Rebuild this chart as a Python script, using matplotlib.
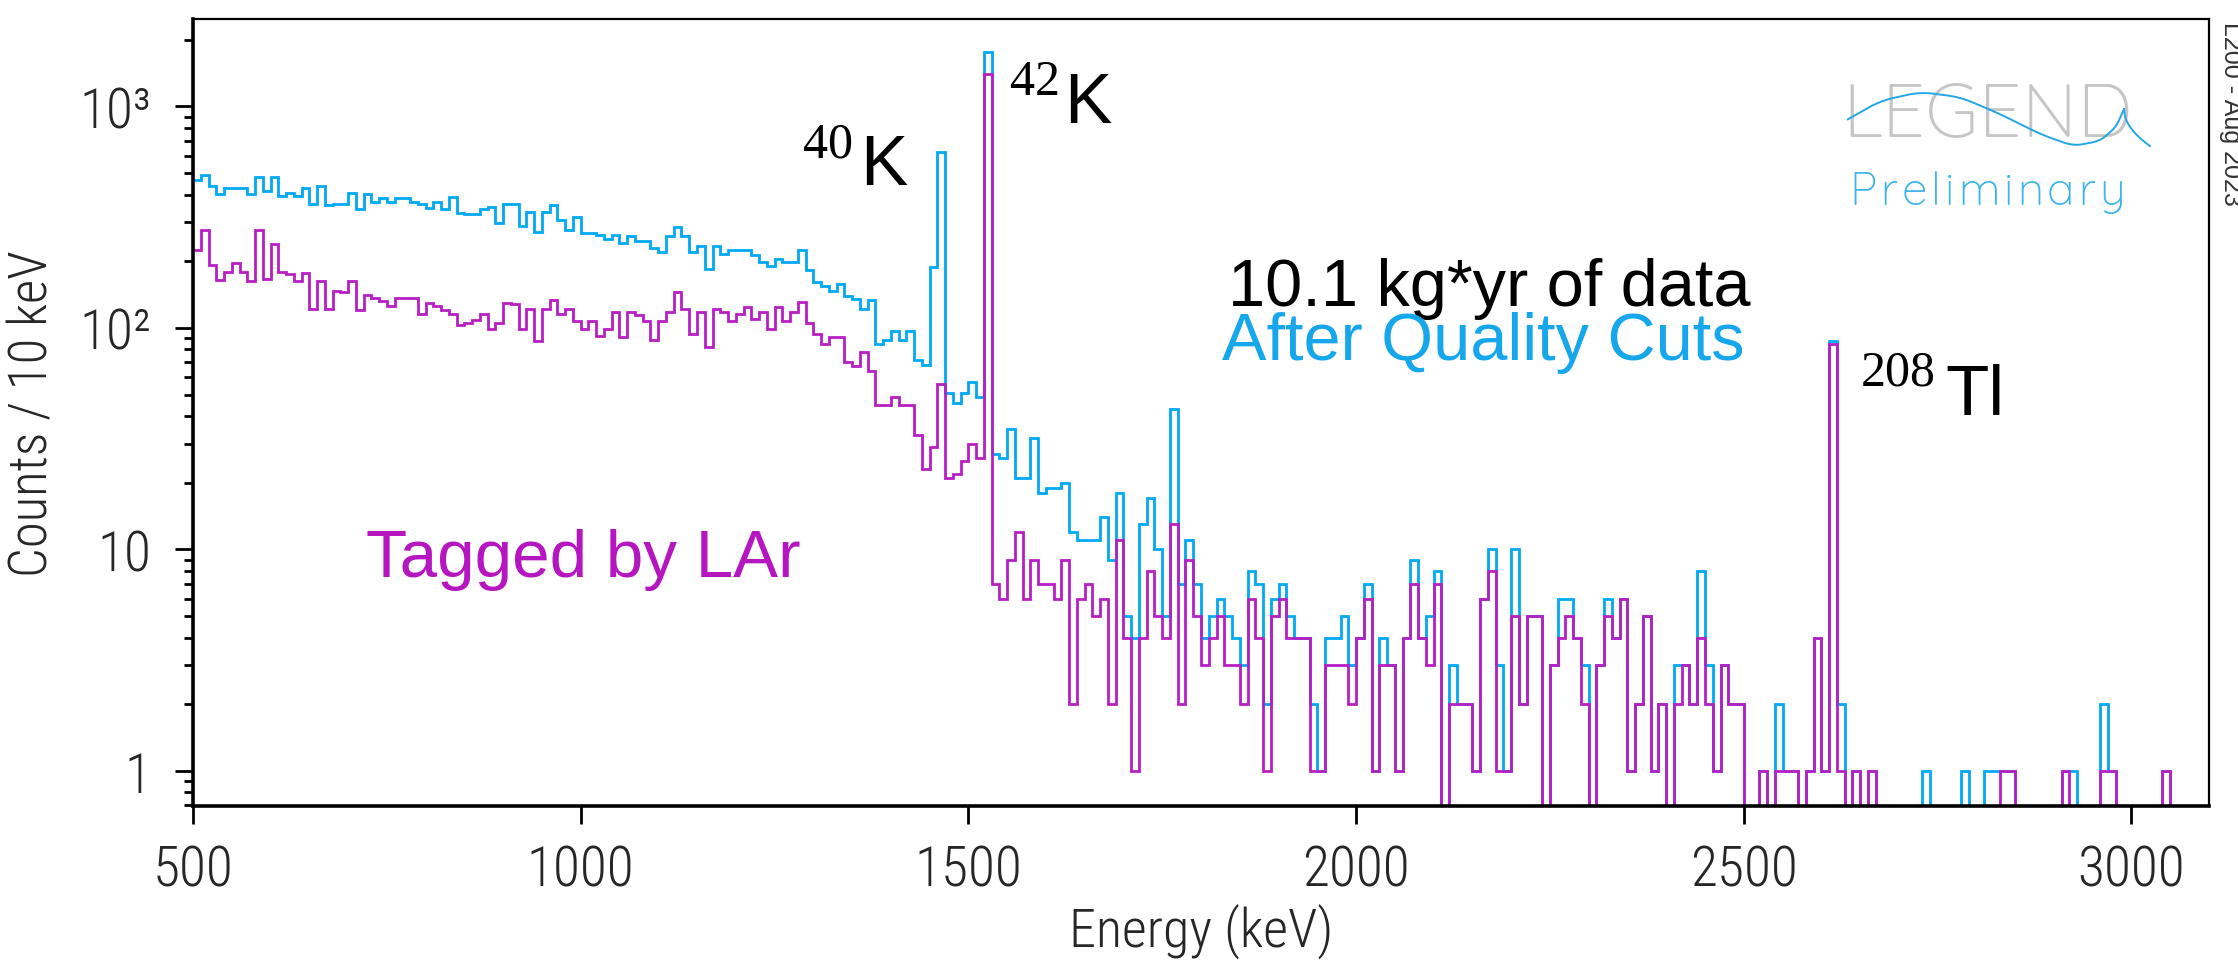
import numpy as np
import matplotlib
matplotlib.use("Agg")
import matplotlib.pyplot as plt
from matplotlib import font_manager
from matplotlib.ticker import FixedLocator, FixedFormatter, NullFormatter
from matplotlib.lines import Line2D

# ---------------------------------------------------------------- data
bin_width = 10  # keV
energy_min = 500
energy_max = 3100

# Counts per 10 keV bin, 500-3100 keV, after quality cuts
quality_cuts = [
    464, 491, 439, 403, 427, 427, 427, 403, 482, 415,
    478, 393, 407, 393, 430, 364, 439, 358, 364, 364,
    407, 344, 403, 371, 385, 371, 385, 385, 371, 364,
    347, 371, 344, 388, 330, 326, 326, 344, 350, 297,
    364, 364, 288, 332, 271, 332, 358, 308, 278, 317,
    268, 268, 262, 252, 264, 241, 261, 246, 246, 229,
    220, 259, 285, 259, 220, 235, 185, 235, 216, 224,
    224, 224, 214, 198, 191, 205, 198, 198, 224, 182,
    161, 155, 147, 158, 140, 135, 122, 133, 85, 88,
    97, 88, 97, 72, 68, 189, 625, 51, 46, 51,
    57, 49, 1760, 27, 26, 35, 21, 21, 32, 18,
    19, 19, 20, 12, 11, 11, 11, 14, 9, 18,
    5, 4, 13, 17, 10, 5, 43, 7, 11, 7,
    4, 5, 6, 5, 4, 3, 8, 7, 2, 6,
    7, 5, 4, 4, 2, 1, 4, 4, 5, 3,
    4, 7, 1, 4, 3, 1, 4, 9, 4, 5,
    8, 0, 3, 2, 2, 1, 6, 10, 3, 1,
    10, 2, 5, 5, 0, 3, 6, 6, 4, 3,
    0, 3, 6, 4, 6, 1, 2, 5, 1, 2,
    0, 3, 3, 2, 8, 3, 1, 3, 2, 2,
    0, 0, 1, 0, 2, 1, 1, 0, 1, 4,
    1, 87, 2, 0, 1, 0, 1, 0, 0, 0,
    0, 0, 0, 1, 0, 0, 0, 0, 1, 0,
    0, 1, 1, 1, 1, 0, 0, 0, 0, 0,
    0, 1, 1, 0, 0, 0, 2, 1, 0, 0,
    0, 0, 0, 0, 1, 0, 0, 0, 0, 0,
]

# Counts per 10 keV bin, 500-3100 keV, tagged by the LAr veto
lar_tagged = [
    225, 276, 192, 165, 178, 196, 178, 163, 276, 167,
    240, 178, 175, 163, 177, 122, 163, 122, 147, 146,
    163, 120, 141, 137, 132, 126, 136, 136, 136, 115,
    129, 126, 120, 116, 103, 105, 109, 116, 99, 105,
    129, 128, 99, 122, 87, 122, 134, 116, 122, 107,
    99, 108, 92, 99, 118, 91, 118, 114, 107, 88,
    108, 118, 145, 122, 94, 118, 82, 122, 118, 108,
    116, 124, 110, 118, 99, 124, 108, 118, 131, 105,
    94, 85, 91, 91, 70, 67, 78, 64, 45, 45,
    49, 45, 45, 33, 23, 29, 56, 21, 22, 25,
    30, 26, 1400, 7, 6, 9, 12, 6, 9, 7,
    7, 6, 9, 2, 6, 7, 5, 6, 2, 11,
    4, 1, 4, 8, 5, 4, 13, 2, 9, 5,
    3, 4, 5, 3, 3, 2, 6, 4, 1, 5,
    6, 4, 4, 4, 1, 1, 3, 3, 3, 2,
    4, 6, 1, 3, 3, 1, 4, 7, 4, 3,
    7, 0, 2, 2, 2, 1, 6, 8, 1, 1,
    5, 2, 5, 5, 0, 3, 4, 5, 4, 2,
    0, 3, 5, 4, 6, 1, 2, 5, 1, 2,
    0, 2, 3, 2, 4, 2, 1, 3, 2, 2,
    0, 0, 1, 0, 1, 1, 1, 0, 1, 4,
    1, 85, 1, 0, 1, 0, 1, 0, 0, 0,
    0, 0, 0, 0, 0, 0, 0, 0, 0, 0,
    0, 0, 0, 1, 1, 0, 0, 0, 0, 0,
    0, 1, 0, 0, 0, 0, 1, 1, 0, 0,
    0, 0, 0, 0, 1, 0, 0, 0, 0, 0,
]

x_ticks = [500, 1000, 1500, 2000, 2500, 3000]
y_ticks = [1, 10, 100, 1000]
y_tick_labels = ["1", "10", "10\u00b2", "10\u00b3"]

# ---------------------------------------------------------------- style
BLUE = "#00A9F4"
MAGENTA = "#B81EC4"
BLUE_TEXT = "#16A6EC"
MAGENTA_TEXT = "#B516C0"
AXIS_TEXT = "#262626"

W, H = 2238, 962


def pick(*families):
    have = {f.name for f in font_manager.fontManager.ttflist}
    for fam in families:
        if fam in have:
            return fam
    return "DejaVu Sans"


AXIS_FONT = pick("Roboto Condensed", "Barlow Semi Condensed", "Barlow Condensed",
                 "Open Sans Condensed", "Liberation Sans Narrow", "Roboto")
LOGO_FONT = pick("Quicksand", "Nunito", "Lato", "Roboto")
SERIF = pick("Liberation Serif", "DejaVu Serif")
SANS = pick("Liberation Sans", "Arial", "DejaVu Sans")


def fx(px):
    return px / W


def fy(py):
    return 1 - py / H


edges = np.arange(energy_min, energy_max + bin_width, bin_width)

fig = plt.figure(figsize=(W / 100, H / 100), dpi=100)
ax = fig.add_axes([fx(193), fy(807), fx(2209) - fx(193), fy(20) - fy(807)])

ax.set_yscale("log")
ax.stairs(quality_cuts, edges, baseline=None, color=BLUE, lw=2.0, zorder=2)
ax.stairs(lar_tagged, edges, baseline=None, color=MAGENTA, lw=2.0, zorder=3)

ax.set_xlim(energy_min, energy_max)
ax.set_ylim(0.695, 2480)

# spines
for side in ("left", "bottom"):
    ax.spines[side].set_linewidth(2.6)
for side in ("top", "right"):
    ax.spines[side].set_linewidth(1.6)
for sp in ax.spines.values():
    sp.set_zorder(5)

# ticks
ax.xaxis.set_major_locator(FixedLocator(x_ticks))
ax.xaxis.set_minor_locator(FixedLocator([]))
ax.yaxis.set_major_locator(FixedLocator(y_ticks))
ax.yaxis.set_major_formatter(FixedFormatter(y_tick_labels))
minor = [m * 10 ** d for d in range(-1, 4) for m in range(2, 10)]
ax.yaxis.set_minor_locator(FixedLocator(minor))
ax.yaxis.set_minor_formatter(NullFormatter())

ax.tick_params(axis="both", which="major", direction="out", length=13, width=2.0,
               colors="black", labelcolor=AXIS_TEXT, labelsize=40)
ax.tick_params(axis="x", which="major", pad=14)
ax.tick_params(axis="y", which="major", pad=17)
ax.tick_params(axis="y", which="minor", direction="out", length=6.5, width=2.0)
ax.tick_params(top=False, right=False, which="both")

for lab in ax.get_xticklabels() + ax.get_yticklabels():
    lab.set_fontfamily(AXIS_FONT)
    lab.set_fontweight(300)

ax.set_xlabel("Energy (keV)", fontsize=39, family=AXIS_FONT, weight=300,
              color=AXIS_TEXT, labelpad=5)
ax.set_ylabel("Counts / 10 keV", fontsize=38, family=AXIS_FONT, weight=300,
              color=AXIS_TEXT, labelpad=15)

# ---------------------------------------------------------------- annotations
def isotope(mass, symbol, x_num, y_num, x_sym, y_sym):
    fig.text(fx(x_num), fy(y_num), mass, family=SERIF, fontsize=36,
             ha="left", va="baseline", color="black")
    fig.text(fx(x_sym), fy(y_sym), symbol, family=SANS, fontsize=51,
             ha="left", va="baseline", color="black")


isotope("40", "K", 803, 158, 860, 185)
isotope("42", "K", 1010, 95, 1064, 123)
isotope("208", "Tl", 1861, 385, 1945, 415)

fig.text(fx(1228), fy(306), "10.1 kg*yr of data", family=SANS, fontsize=48,
         ha="left", va="baseline", color="black")
fig.text(fx(1222), fy(360), "After Quality Cuts", family=SANS, fontsize=48,
         ha="left", va="baseline", color=BLUE_TEXT)
fig.text(fx(366), fy(577), "Tagged by LAr", family=SANS, fontsize=48.5,
         ha="left", va="baseline", color=MAGENTA_TEXT)

# collaboration mark
fig.text(fx(1987), fy(137), "LEGEND", family=LOGO_FONT, fontsize=55, weight=600,
         ha="center", va="baseline", color="#C6C6C6", zorder=6)
wave_x = np.array([1845, 1880, 1920, 1960, 2000, 2040, 2073, 2100, 2116, 2124])
wave_y = np.array([122, 102, 93, 98, 115, 135, 147, 142, 128, 110])
t = np.linspace(0, 1, 200)
xs = np.interp(t, np.linspace(0, 1, len(wave_x)), wave_x)
ys = np.interp(t, np.linspace(0, 1, len(wave_y)), wave_y)
# smooth the wave
k = np.ones(15) / 15
xs_s = np.convolve(np.pad(xs, 7, mode="edge"), k, mode="valid")
ys_s = np.convolve(np.pad(ys, 7, mode="edge"), k, mode="valid")
fig.add_artist(Line2D(fx(xs_s), fy(ys_s), color="#23A7E6", lw=1.4, zorder=7))
tail_x = np.linspace(2124, 2150, 30)
tail_y = 110 + 37 * np.sqrt((tail_x - 2124) / 26)
fig.add_artist(Line2D(fx(tail_x), fy(tail_y), color="#23A7E6", lw=1.4, zorder=7))

# letter-spaced "Preliminary"
word = "Preliminary"
renderer = fig.canvas.get_renderer()
pieces = []
for ch in word:
    pieces.append(fig.text(0, 0, ch, family=LOGO_FONT, fontsize=33, weight=400,
                           ha="left", va="baseline", color="#3DB4EE", zorder=6))
widths = [p.get_window_extent(renderer).width for p in pieces]
spacing = 4.0
total = sum(widths) + spacing * (len(word) - 1)
x0 = 1987 - total / 2
for p, w in zip(pieces, widths):
    p.set_position((fx(x0), fy(205)))
    x0 += w + spacing

fig.text(fx(2224), fy(22), "L200 - Aug 2023", family=SANS, fontsize=18,
         rotation=270, rotation_mode="anchor", ha="left", va="baseline",
         color="#333333")

fig.savefig("out.png", dpi=100, facecolor="white")
